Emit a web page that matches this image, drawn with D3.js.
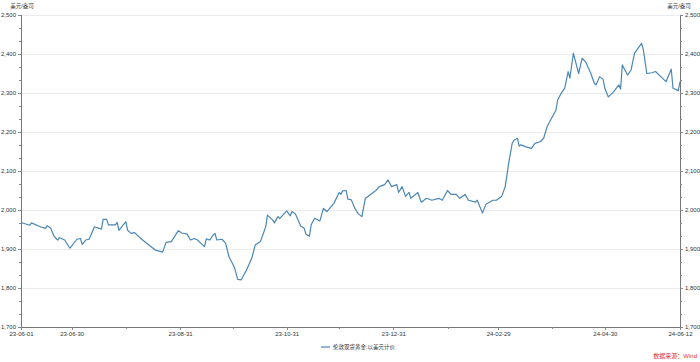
<!DOCTYPE html>
<html>
<head>
<meta charset="utf-8">
<script src="https://cdn.jsdelivr.net/npm/d3@7"></script>
<style>
  body { margin: 0; background: #fff; }
  svg { display: block; font-family: "Liberation Sans", "Noto Sans CJK SC", sans-serif; }
  .axis text { font-size: 6px; fill: #333; }
  .axis path, .axis line { stroke: #888; shape-rendering: crispEdges; }
</style>
</head>
<body>
<svg width="700" height="362"></svg>
<script>
// series: London spot gold, USD
var dates = [
  "2023-06-01","2023-06-06","2023-06-07","2023-06-12","2023-06-15","2023-06-16","2023-06-18","2023-06-20","2023-06-22","2023-06-23","2023-06-26","2023-06-29",
  "2023-07-03","2023-07-05","2023-07-06","2023-07-08","2023-07-10","2023-07-13","2023-07-17","2023-07-18","2023-07-20","2023-07-21","2023-07-25","2023-07-26","2023-07-27","2023-07-31",
  "2023-08-01","2023-08-03","2023-08-05","2023-08-09","2023-08-15","2023-08-17","2023-08-21","2023-08-23","2023-08-26","2023-08-30",
  "2023-09-01","2023-09-04","2023-09-06","2023-09-08","2023-09-10","2023-09-13","2023-09-14","2023-09-15","2023-09-17","2023-09-19","2023-09-20","2023-09-21","2023-09-24","2023-09-26","2023-09-28",
  "2023-10-01","2023-10-03","2023-10-05","2023-10-08","2023-10-11","2023-10-13","2023-10-16","2023-10-19","2023-10-20","2023-10-23","2023-10-24","2023-10-26","2023-10-27","2023-10-31",
  "2023-11-02","2023-11-03","2023-11-05","2023-11-08","2023-11-10","2023-11-11","2023-11-13","2023-11-14","2023-11-16","2023-11-19","2023-11-21","2023-11-23","2023-11-27","2023-11-30",
  "2023-12-01","2023-12-02","2023-12-04","2023-12-05","2023-12-07","2023-12-09","2023-12-11","2023-12-13","2023-12-15","2023-12-18","2023-12-21","2023-12-23","2023-12-26","2023-12-28","2023-12-30",
  "2024-01-02","2024-01-03","2024-01-05","2024-01-07","2024-01-09","2024-01-10","2024-01-14","2024-01-16","2024-01-19","2024-01-22","2024-01-26","2024-01-28","2024-01-31",
  "2024-02-02","2024-02-05","2024-02-07","2024-02-10","2024-02-12","2024-02-16","2024-02-17","2024-02-20","2024-02-22","2024-02-26","2024-02-28",
  "2024-03-02","2024-03-04","2024-03-06","2024-03-08","2024-03-09","2024-03-11","2024-03-12","2024-03-13","2024-03-16","2024-03-19","2024-03-21","2024-03-24","2024-03-26","2024-03-28","2024-03-31",
  "2024-04-02","2024-04-03","2024-04-05","2024-04-07","2024-04-08","2024-04-09","2024-04-10","2024-04-12","2024-04-15","2024-04-17","2024-04-19","2024-04-22","2024-04-24","2024-04-25","2024-04-27","2024-04-29","2024-04-30",
  "2024-05-02","2024-05-05","2024-05-08","2024-05-09","2024-05-10","2024-05-13","2024-05-15","2024-05-17","2024-05-21","2024-05-22","2024-05-24","2024-05-27","2024-05-29",
  "2024-06-01","2024-06-04","2024-06-07","2024-06-08","2024-06-11","2024-06-12"
];

var prices = [
  1968,1961,1967,1957,1953,1960,1953,1932,1923,1929,1923,1902,
  1925,1927,1912,1923,1925,1957,1951,1976,1976,1962,1962,1968,1948,1970,
  1948,1940,1942,1925,1904,1897,1892,1917,1919,1947,
  1941,1938,1923,1927,1923,1910,1906,1926,1923,1936,1940,1923,1925,1915,1880,
  1854,1822,1821,1846,1876,1910,1919,1957,1987,1974,1967,1983,1978,1998,
  1985,1996,1990,1959,1953,1938,1933,1962,1979,1972,2004,1996,2017,2045,
  2040,2049,2050,2028,2026,2004,1990,1983,2030,2040,2050,2060,2065,2077,2060,
  2065,2045,2060,2035,2045,2030,2045,2020,2030,2025,2030,2025,2050,
  2040,2040,2030,2040,2025,2020,2025,1992,2015,2025,2025,
  2035,2060,2120,2171,2179,2184,2164,2167,2162,2158,2171,2175,2184,2214,2239,
  2256,2282,2299,2312,2333,2355,2338,2402,2350,2389,2380,2350,2325,2321,2342,2335,2312,
  2290,2303,2321,2310,2372,2346,2359,2402,2427,2412,2350,2352,2355,
  2342,2329,2361,2312,2306,2329
];

var xTickLabels = ["2023-06-01","2023-06-30","2023-08-31","2023-10-31","2023-12-31","2024-02-29","2024-04-30","2024-06-12"];
var xMinorTicks = ["2023-07-31","2023-09-30","2023-11-30","2024-01-31","2024-03-31"];
var yTicks = [1700,1800,1900,2000,2100,2200,2300,2400,2500];

var seriesName = "伦敦现货黄金:以美元计价";
var unitLabel = "美元/盎司";
var sourceLabel = "数据来源：Wind";

var parseDate = d3.timeParse("%Y-%m-%d"),
    fmtDate = d3.timeFormat("%y-%m-%d");

var data = dates.map((d, i) => ({date: parseDate(d), value: prices[i]}));

var svg = d3.select("svg"),
    plotLeft = 21, plotRight = 680, plotTop = 15, plotBottom = 327;

var x = d3.scaleTime()
  .domain([parseDate(dates[0]), parseDate(dates[dates.length - 1])])
  .range([plotLeft, plotRight]);

var y = d3.scaleLinear()
  .domain([1700, 2500])
  .range([plotBottom, plotTop]);

// horizontal grid
svg.append("g")
  .selectAll("line")
  .data(yTicks.slice(1))
  .enter().append("line")
  .attr("x1", plotLeft).attr("x2", plotRight)
  .attr("y1", d => y(d)).attr("y2", d => y(d))
  .style("stroke", "#ececec")
  .style("shape-rendering", "crispEdges");

// minor y ticks (three steps per 100)
var yMinor = [];
yTicks.slice(0, -1).forEach(v => { yMinor.push(v + 100 / 3, v + 200 / 3); });

svg.append("g")
  .attr("class", "axis")
  .attr("transform", "translate(" + plotLeft + ",0)")
  .call(d3.axisLeft(y).tickValues(yTicks).tickFormat(d3.format(",")).tickSize(3).tickPadding(2));

svg.append("g")
  .attr("class", "axis")
  .attr("transform", "translate(" + plotRight + ",0)")
  .call(d3.axisRight(y).tickValues(yTicks).tickFormat(d3.format(",")).tickSize(3).tickPadding(2));

svg.append("g")
  .attr("class", "axis")
  .attr("transform", "translate(" + plotLeft + ",0)")
  .call(d3.axisLeft(y).tickValues(yMinor).tickFormat("").tickSize(2))
  .select(".domain").remove();

svg.append("g")
  .attr("class", "axis")
  .attr("transform", "translate(" + plotRight + ",0)")
  .call(d3.axisRight(y).tickValues(yMinor).tickFormat("").tickSize(2))
  .select(".domain").remove();

// x axis
svg.append("g")
  .attr("class", "axis")
  .attr("transform", "translate(0," + plotBottom + ")")
  .call(d3.axisBottom(x).tickValues(xTickLabels.map(parseDate)).tickFormat(fmtDate).tickSize(3).tickPadding(2).tickSizeOuter(0));

svg.append("g")
  .attr("class", "axis")
  .attr("transform", "translate(0," + plotBottom + ")")
  .call(d3.axisBottom(x).tickValues(xMinorTicks.map(parseDate)).tickFormat("").tickSize(2))
  .select(".domain").remove();

svg.selectAll(".axis .domain").style("stroke", "#777");

// unit labels
svg.append("text")
  .attr("x", 22).attr("y", 8)
  .attr("text-anchor", "middle")
  .style("font-size", "5.5px").style("fill", "#333")
  .text(unitLabel);

svg.append("text")
  .attr("x", 679).attr("y", 8)
  .attr("text-anchor", "middle")
  .style("font-size", "5.5px").style("fill", "#333")
  .text(unitLabel);

// price line
var line = d3.line()
  .x(d => x(d.date))
  .y(d => y(d.value));

svg.append("path")
  .datum(data)
  .attr("d", line)
  .style("fill", "none")
  .style("stroke", "#4a87b5")
  .style("stroke-width", 1.2)
  .style("stroke-linejoin", "round");

// legend
var legend = svg.append("g").attr("transform", "translate(321,347)");
legend.append("line")
  .attr("x1", 0).attr("x2", 9)
  .style("stroke", "#4a87b5")
  .style("stroke-width", 1.2);
legend.append("text")
  .attr("x", 12).attr("y", 2)
  .style("font-size", "5.5px").style("fill", "#333")
  .text(seriesName);

// source
svg.append("text")
  .attr("x", 697).attr("y", 358)
  .attr("text-anchor", "end")
  .style("font-size", "6px").style("fill", "#e0302a")
  .text(sourceLabel);
</script>
</body>
</html>
